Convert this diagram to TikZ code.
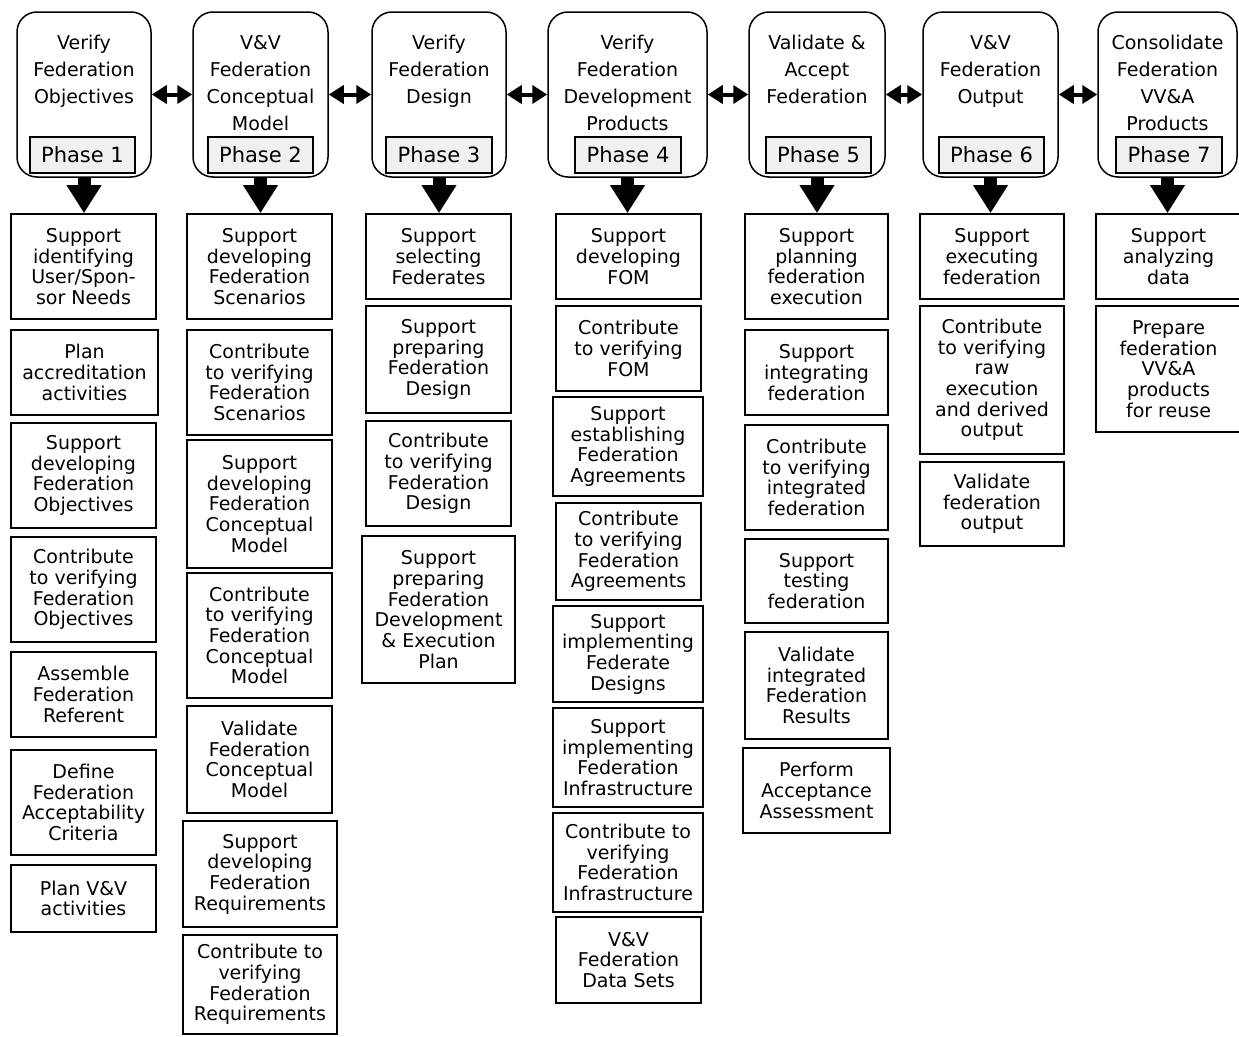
\documentclass[tikz,border=0pt]{standalone}
\usepackage{fontspec}
\setmainfont{DejaVu Sans}
\usetikzlibrary{arrows.meta}
\tikzset{
  tbox/.style={draw, line width=1.7pt, inner sep=0pt, align=center,
    font=\fontsize{19}{20.7}\selectfont},
  phasebox/.style={draw, line width=1.5pt, rounded corners=20pt, inner sep=0pt},
  phaselabel/.style={draw, line width=1.5pt, fill=black!6, inner sep=0pt,
    font=\fontsize{21}{22}\selectfont},
  phasetitle/.style={inner sep=0pt, align=center, anchor=north,
    font=\fontsize{19}{27}\selectfont},
  downarr/.style={line width=13pt, -{Triangle[length=28pt,width=33pt]}},
  dblarr/.style={line width=4pt, {Triangle[length=15pt,width=18pt]}-{Triangle[length=15pt,width=18pt]}}
}
\newcommand{\mybx}[6]{%
  \node[tbox, minimum width={(#3-#2)*1pt}, minimum height={(#5-#4)*1pt}]
    (#1) at ({(#2+#3)/2},{(#4+#5)/2}) {#6};}
\newcommand{\myphase}[5]{%
  \node[phasebox, minimum width={(#3-#2)*1pt}, minimum height=165pt]
    (P#1) at ({(#2+#3)/2},94.5) {};
  \node[phasetitle] (T#1) at ({(#2+#3)/2},35) {#4};}
\newcommand{\mylabel}[3]{%
  \node[phaselabel, minimum width={(#3-#2)*1pt}, minimum height=36pt]
    (L#1) at ({(#2+#3)/2},155) {Phase #1};}
\begin{document}
\begin{tikzpicture}[x=1pt,y=-1pt]
\useasboundingbox (0,0) rectangle (1239,1036);
% phases
\myphase{1}{17}{151}{Verify\\Federation\\Objectives}{}
\myphase{2}{193}{328}{V\&V\\Federation\\Conceptual\\Model}{}
\myphase{3}{372}{506}{Verify\\Federation\\Design}{}
\myphase{4}{548}{707}{Verify\\Federation\\Development\\Products}{}
\myphase{5}{749}{885}{Validate \&\\Accept\\Federation}{}
\myphase{6}{923}{1058}{V\&V\\Federation\\Output}{}
\myphase{7}{1098}{1237}{Consolidate\\Federation\\VV\&A\\Products}{}
\mylabel{1}{30}{135}
\mylabel{2}{208}{313}
\mylabel{3}{386}{492}
\mylabel{4}{575}{681}
\mylabel{5}{766}{871}
\mylabel{6}{939}{1044}
\mylabel{7}{1116}{1222}
% column 1
\mybx{B1}{11}{156}{214}{319}{Support\\identifying\\User/Spon-\\sor Needs}
\mybx{B2}{11}{158}{330}{415}{Plan\\accreditation\\activities}
\mybx{B3}{11}{156}{423}{528}{Support\\developing\\Federation\\Objectives}
\mybx{B4}{11}{156}{537}{642}{Contribute\\to verifying\\Federation\\Objectives}
\mybx{B5}{11}{156}{652}{737}{Assemble\\Federation\\Referent}
\mybx{B6}{11}{156}{750}{855}{Define\\Federation\\Acceptability\\Criteria}
\mybx{B7}{11}{156}{865}{932}{Plan V\&V\\activities}
% column 2
\mybx{C1}{187}{332}{214}{319}{Support\\developing\\Federation\\Scenarios}
\mybx{C2}{187}{332}{330}{435}{Contribute\\to verifying\\Federation\\Scenarios}
\mybx{C3}{187}{332}{440}{568}{Support\\developing\\Federation\\Conceptual\\Model}
\mybx{C4}{187}{332}{573}{698}{Contribute\\to verifying\\Federation\\Conceptual\\Model}
\mybx{C5}{187}{332}{706}{813}{Validate\\Federation\\Conceptual\\Model}
\mybx{C6}{183}{337}{821}{927}{Support\\developing\\Federation\\Requirements}
\mybx{C7}{183}{337}{935}{1034}{Contribute to\\verifying\\Federation\\Requirements}
% column 3
\mybx{D1}{366}{511}{214}{299}{Support\\selecting\\Federates}
\mybx{D2}{366}{511}{306}{413}{Support\\preparing\\Federation\\Design}
\mybx{D3}{366}{511}{421}{526}{Contribute\\to verifying\\Federation\\Design}
\mybx{D4}{362}{515}{536}{683}{Support\\preparing\\Federation\\Development\\\& Execution\\Plan}
% column 4
\mybx{E1}{556}{701}{214}{299}{Support\\developing\\FOM}
\mybx{E2}{556}{701}{306}{391}{Contribute\\to verifying\\FOM}
\mybx{E3}{553}{703}{397}{496}{Support\\establishing\\Federation\\Agreements}
\mybx{E4}{556}{701}{503}{600}{Contribute\\to verifying\\Federation\\Agreements}
\mybx{E5}{553}{703}{606}{702}{Support\\implementing\\Federate\\Designs}
\mybx{E6}{553}{703}{708}{807}{Support\\implementing\\Federation\\Infrastructure}
\mybx{E7}{553}{703}{813}{912}{Contribute to\\verifying\\Federation\\Infrastructure}
\mybx{E8}{556}{701}{917}{1003}{V\&V\\Federation\\Data Sets}
% column 5
\mybx{F1}{745}{888}{214}{319}{Support\\planning\\federation\\execution}
\mybx{F2}{745}{888}{330}{415}{Support\\integrating\\federation}
\mybx{F3}{745}{888}{425}{530}{Contribute\\to verifying\\integrated\\federation}
\mybx{F4}{745}{888}{539}{623}{Support\\testing\\federation}
\mybx{F5}{745}{888}{632}{739}{Validate\\integrated\\Federation\\Results}
\mybx{F6}{743}{890}{748}{833}{Perform\\Acceptance\\Assessment}
% column 6
\mybx{G1}{920}{1064}{214}{299}{Support\\executing\\federation}
\mybx{G2}{920}{1064}{306}{454}{Contribute\\to verifying\\raw\\execution\\and derived\\output}
\mybx{G3}{920}{1064}{462}{546}{Validate\\federation\\output}
% column 7
\mybx{H1}{1096}{1241}{214}{299}{Support\\analyzing\\data}
\mybx{H2}{1096}{1241}{306}{432}{Prepare\\federation\\VV\&A\\products\\for reuse}
% down arrows
\draw[downarr] (P1.south) -- (P1.south |- B1.north);
\draw[downarr] (P2.south) -- (P2.south |- C1.north);
\draw[downarr] (P3.south) -- (P3.south |- D1.north);
\draw[downarr] (P4.south) -- (P4.south |- E1.north);
\draw[downarr] (P5.south) -- (P5.south |- F1.north);
\draw[downarr] (P6.south) -- (P6.south |- G1.north);
\draw[downarr] (P7.south) -- (P7.south |- H1.north);
% double arrows
\draw[dblarr] (P1.east) -- (P2.west);
\draw[dblarr] (P2.east) -- (P3.west);
\draw[dblarr] (P3.east) -- (P4.west);
\draw[dblarr] (P4.east) -- (P5.west);
\draw[dblarr] (P5.east) -- (P6.west);
\draw[dblarr] (P6.east) -- (P7.west);
\end{tikzpicture}
\end{document}
